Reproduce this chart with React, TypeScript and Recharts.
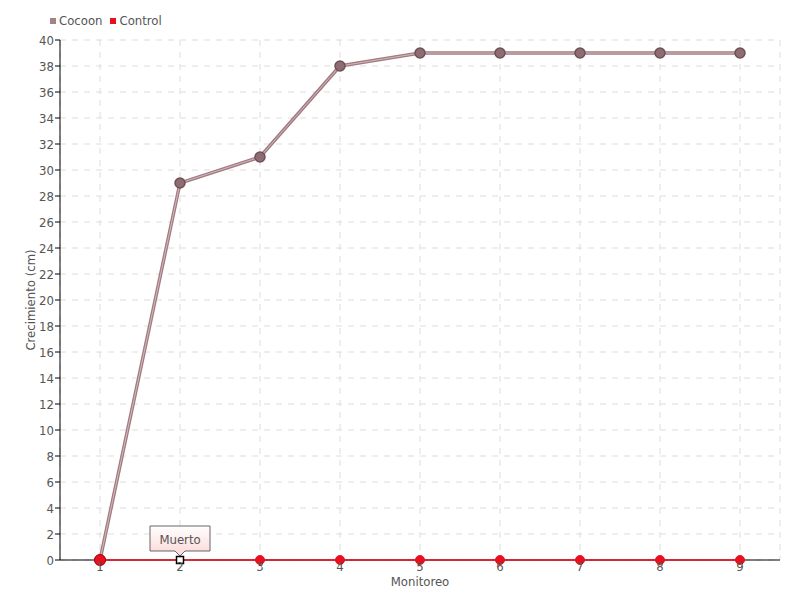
import React from 'react';
import { LineChart, Line, XAxis, YAxis, CartesianGrid } from 'recharts';

const monitoreo = [1, 2, 3, 4, 5, 6, 7, 8, 9];
const cocoon = [0, 29, 31, 38, 39, 39, 39, 39, 39];
const control = [0, 0, 0, 0, 0, 0, 0, 0, 0];
const yTicks = [0, 2, 4, 6, 8, 10, 12, 14, 16, 18, 20, 22, 24, 26, 28, 30, 32, 34, 36, 38, 40];
const xRange = [0.5, 9.5];
const noteIndex = 1;
const noteText = 'Muerto';

const data = monitoreo.map((m, i) => ({ m, cocoon: cocoon[i], control: control[i] }));
const axisData = xRange.map((m) => ({ m, axis: 0 }));

const FONT = '"DejaVu Sans Condensed", "DejaVu Sans", sans-serif';
const TXT = { fontFamily: FONT, fontStretch: 'condensed' as const };

const ControlDot = (props: any) => {
  const { cx, cy, index } = props;
  if (index === noteIndex) {
    return (
      <g key={`cd-${index}`}>
        <defs>
          <linearGradient id="noteGrad" x1="0" y1="0" x2="0" y2="1">
            <stop offset="0%" stopColor="#ffffff" />
            <stop offset="100%" stopColor="#fcd6d6" />
          </linearGradient>
        </defs>
        <path
          d={`M${cx - 30},${cy - 34} L${cx + 30},${cy - 34} L${cx + 30},${cy - 9} L${cx + 5},${cy - 9} L${cx},${cy - 4} L${cx - 5},${cy - 9} L${cx - 30},${cy - 9} Z`}
          fill="url(#noteGrad)"
          stroke="#666"
          strokeWidth={1}
        />
        <text x={cx} y={cy - 16} textAnchor="middle" fontSize={13} fill="#555" style={TXT}>
          {noteText}
        </text>
        <rect x={cx - 3.5} y={cy - 3.5} width={7} height={7} fill="#fff" stroke="#000" strokeWidth={1.5} />
      </g>
    );
  }
  return <circle key={`cd-${index}`} cx={cx} cy={cy} r={index === 0 ? 5.5 : 4.5} fill="#e8101e" stroke={index === 0 ? '#b00010' : '#e8101e'} strokeWidth={1} />;
};

export default function App() {
  return (
    <div style={{ position: 'absolute', left: 0, top: 0, width: 800, height: 600, background: '#fff' }}>
      <div style={{ position: 'absolute', left: 50, top: 13, display: 'flex', alignItems: 'center', fontFamily: FONT, fontStretch: 'condensed', fontSize: 13, color: '#555', zIndex: 2 }}>
        <span style={{ width: 6, height: 6, background: '#a08488', display: 'inline-block', marginRight: 3 }} />
        <span style={{ marginRight: 8 }}>Cocoon</span>
        <span style={{ width: 6, height: 6, background: '#e8101e', display: 'inline-block', marginRight: 3 }} />
        <span>Control</span>
      </div>
      <LineChart width={800} height={600} data={data} margin={{ top: 40, right: 20, bottom: 0, left: 0 }}>
        <CartesianGrid stroke="#dddddd" strokeDasharray="6 6" />
        <XAxis
          dataKey="m"
          type="number"
          domain={xRange}
          ticks={monitoreo}
          height={40}
          axisLine={false}
          tickLine={false}
          tickSize={2}
          tick={{ fontSize: 13, fill: '#555', style: TXT }}
          tickMargin={0}
          label={{ value: 'Monitoreo', position: 'insideTop', offset: 17, fontSize: 13, fill: '#555', style: TXT }}
        />
        <YAxis
          type="number"
          domain={[0, 40]}
          ticks={yTicks}
          interval={0}
          width={60}
          axisLine={{ stroke: '#000', strokeWidth: 1 }}
          tickLine={{ stroke: '#000' }}
          tickSize={5}
          tickMargin={1}
          tick={{ fontSize: 13, fill: '#555', style: TXT }}
          label={{ value: 'Crecimiento (cm)', angle: -90, position: 'insideLeft', offset: 30, style: { textAnchor: 'middle', ...TXT }, fontSize: 13, fill: '#555' }}
        />
        <Line
          data={axisData}
          dataKey="axis"
          stroke="#000"
          strokeWidth={1}
          isAnimationActive={false}
          dot={false}
          activeDot={false}
          legendType="none"
        />
        <Line
          dataKey="cocoon"
          stroke="#a07c82"
          strokeWidth={3.5}
          isAnimationActive={false}
          dot={false}
          activeDot={false}
          legendType="none"
        />
        <Line
          dataKey="cocoon"
          stroke="#d4b8bc"
          strokeWidth={1}
          isAnimationActive={false}
          dot={{ r: 5, fill: '#8f6b72', stroke: '#6e5056', strokeWidth: 1.5 }}
          activeDot={false}
          legendType="none"
        />
        <Line
          dataKey="control"
          stroke="#ee1122"
          strokeWidth={1.5}
          isAnimationActive={false}
          dot={<ControlDot />}
          legendType="none"
        />
      </LineChart>
    </div>
  );
}
